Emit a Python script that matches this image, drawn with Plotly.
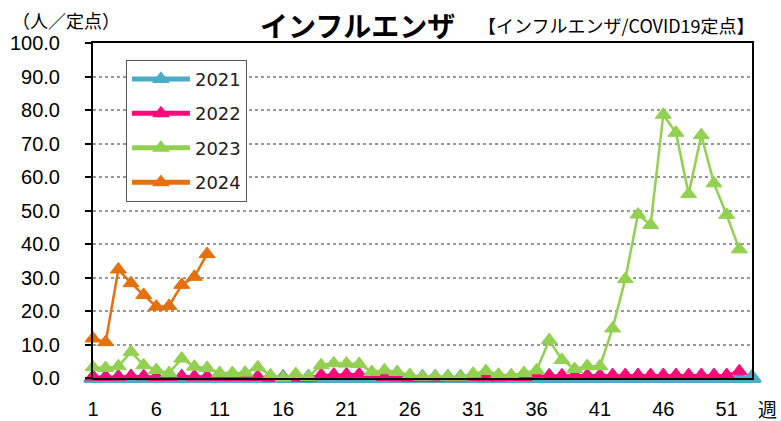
import plotly.graph_objects as go

weeks_2021 = list(range(1, 54))
weeks_2022 = list(range(1, 53))
weeks_2023 = list(range(1, 53))
weeks_2024 = list(range(1, 11))

flu_2021 = [0, 0, 0, 0, 0, 0, 0, 0, 0, 0, 0, 0, 0, 0, 0, 0, 0, 0, 0, 0,
            0, 0, 0, 0, 0, 0, 0, 0, 0, 0, 0, 0, 0, 0, 0, 0, 0, 0, 0, 0,
            0, 0, 0, 0, 0, 0, 0, 0, 0, 0, 0, 0, 0]
flu_2022 = [0.4, 0.3, 0.4, 0.6, 0.5, 0.3, 0.3, 0.5, 0.4, 0.4, 0.3, 0.3, 0.3, 0.3,
            0.1, 0.1, 0.1, 0.1,
            0.9, 1.0, 1.1, 1.1, 1.0,
            0.3, 0.2, 0.1, 0.1, 0.1, 0.2, 0.2, 0.3, 0.2, 0.2, 0.3, 0.3,
            0.7, 0.8, 0.8, 0.8, 0.8, 0.8, 0.9, 0.9, 0.9, 0.9, 0.9, 0.9, 0.9, 0.9, 0.9, 0.9,
            2.0]
flu_2023 = [3.2, 3.0, 3.5, 7.8, 3.8, 2.4, 1.5, 5.8, 3.4, 3.0,
            1.5, 1.5, 1.6, 3.2, 0.8, 0.1, 1.2, 0.3, 3.8, 4.4,
            4.3, 4.2, 1.8, 2.3, 1.8, 0.9, 0.4, 0.5, 0.4, 0.4,
            1.3, 2.1, 1.0, 0.8, 1.5, 2.3, 11.3, 5.4, 2.7, 3.6,
            3.5, 14.8, 29.5, 48.8, 45.7, 78.6, 73.2, 54.9, 72.5, 58.1,
            48.7, 38.4]
flu_2024 = [11.8, 10.7, 32.4, 28.3, 24.8, 21.3, 21.5, 27.8, 30.2, 37.0]

x_ticks = [1, 6, 11, 16, 21, 26, 31, 36, 41, 46, 51]
y_ticks = [0, 10, 20, 30, 40, 50, 60, 70, 80, 90, 100]
y_tick_text = ["0.0", "10.0", "20.0", "30.0", "40.0", "50.0", "60.0", "70.0", "80.0", "90.0", "100.0"]

series = [
    ("2021", weeks_2021, flu_2021, "#4BACC6", 4.5, 15, 2.5),
    ("2022", weeks_2022, flu_2022, "#FF0A78", 2.5, 14, 1),
    ("2023", weeks_2023, flu_2023, "#92D050", 2.5, 14, 1),
    ("2024", weeks_2024, flu_2024, "#E4700E", 2.5, 14, 1),
]

fig = go.Figure()
for name, xs, ys, color, lw, ms, mlw in series:
    fig.add_trace(go.Scatter(
        x=xs, y=ys, name=name, mode="lines+markers",
        line=dict(color=color, width=lw),
        marker=dict(symbol="triangle-up", size=ms, color=color,
                    line=dict(color=color, width=mlw)),
        cliponaxis=False, legendgroup=name,
    ))

num_font = "Liberation Sans, Arial, sans-serif"
leg_font = "DejaVu Sans, sans-serif"
jp_font = "Noto Sans CJK JP, sans-serif"

fig.update_layout(
    width=781, height=421,
    margin=dict(l=93, r=29, t=43, b=43, autoexpand=False),
    paper_bgcolor="white", plot_bgcolor="white",
    showlegend=True,
    legend=dict(
        x=0.05, y=0.95, xanchor="left", yanchor="top",
        bgcolor="white", bordercolor="#555555", borderwidth=1,
        font=dict(family=leg_font, size=18, color="#222"),
        itemwidth=58, traceorder="grouped", tracegroupgap=8,
        itemsizing="constant",
    ),
    xaxis=dict(
        range=[1, 53], tickvals=x_ticks, ticktext=[str(v) for v in x_ticks],
        showgrid=False, zeroline=False, showline=True, linecolor="black",
        linewidth=2, mirror=True, ticks="", automargin=False,
        tickfont=dict(family=num_font, size=20, color="black"),
        ticklabelstandoff=12,
    ),
    yaxis=dict(
        range=[0, 100], tickvals=y_ticks, ticktext=y_tick_text,
        showgrid=True, gridcolor="#999999", griddash="dot", gridwidth=1.5,
        zeroline=False, showline=True, linecolor="black", linewidth=2,
        mirror=True, ticks="outside", ticklen=6, tickwidth=2, tickcolor="black",
        tickfont=dict(family=num_font, size=20, color="black"),
        ticklabelstandoff=21, automargin=False,
    ),
    yaxis2=dict(
        range=[0, 100], tickvals=y_ticks, overlaying="y", side="left",
        showgrid=False, zeroline=False, showline=False, showticklabels=False,
        ticks="inside", ticklen=7, tickwidth=2, tickcolor="black", automargin=False,
    ),
)

fig.add_annotation(text="（人／定点）", xref="paper", yref="paper",
                   x=-0.126, y=1.07, xanchor="left", yanchor="middle",
                   showarrow=False, font=dict(family=jp_font, size=18, color="black"))
fig.add_annotation(text="<b>インフルエンザ</b>", xref="paper", yref="paper",
                   x=0.402, y=1.054, xanchor="center", yanchor="middle",
                   showarrow=False, font=dict(family=jp_font, size=28, color="black"))
fig.add_annotation(text="【インフルエンザ/COVID19定点】", xref="paper", yref="paper",
                   x=0.795, y=1.054, xanchor="center", yanchor="middle",
                   showarrow=False, font=dict(family=jp_font, size=18, color="black"))
fig.add_annotation(text="週", xref="paper", yref="paper",
                   x=1.024, y=-0.09, xanchor="center", yanchor="middle",
                   showarrow=False, font=dict(family=jp_font, size=19, color="black"))

fig.write_html("out.html", config={"displayModeBar": False},
               post_script="document.body.style.margin='0';")
